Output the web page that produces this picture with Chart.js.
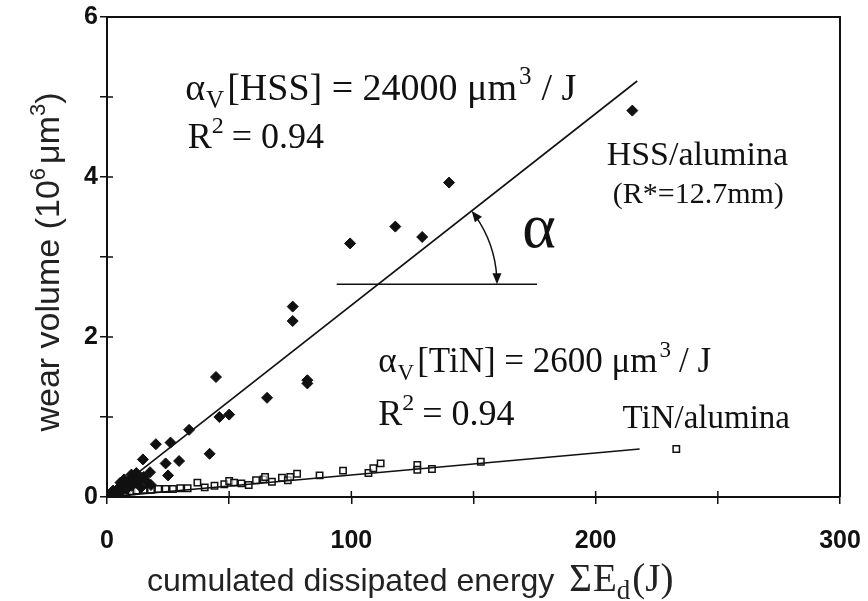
<!DOCTYPE html>
<html>
<head>
<meta charset="utf-8">
<script src="https://cdn.jsdelivr.net/npm/chart.js@4.4.0/dist/chart.umd.min.js"></script>
<style>
  html, body { margin: 0; background: #fff; }
  #wrap { width: 868px; height: 601px; }
</style>
</head>
<body>
<div id="wrap"><canvas id="wearChart"></canvas></div>
<script>
'use strict';

// HSS/alumina (filled diamonds)
let hssX = [1, 2.5, 3, 4, 5, 5.5, 6, 7, 7, 8, 9, 10, 10, 11, 12, 12, 13, 14, 14.7, 15, 16, 17.6, 18, 20, 24, 25, 26, 29.5, 33.6, 42, 44.6, 46, 50, 65.5, 76, 76, 82, 82, 99.5, 118, 129, 140, 215];
let hssY = [0.02, 0.08, 0.04, 0.05, 0.12, 0.18, 0.08, 0.15, 0.22, 0.1, 0.2, 0.14, 0.28, 0.25, 0.18, 0.3, 0.22, 0.12, 0.47, 0.25, 0.2, 0.31, 0.15, 0.66, 0.42, 0.27, 0.68, 0.45, 0.84, 0.54, 1.5, 1.0, 1.03, 1.24, 2.38, 2.2, 1.46, 1.42, 3.17, 3.38, 3.25, 3.93, 4.83];

// TiN/alumina (open squares)
let tinX = [2, 4, 6, 8, 10, 12, 15, 18, 21, 24, 27, 30, 33, 37, 40, 44, 48, 50, 52, 55, 58, 61, 64, 64.7, 67.5, 71.6, 74, 75, 77.8, 87, 96.6, 107, 109, 112, 127, 127, 133, 153, 233];
let tinY = [0.02, 0.04, 0.05, 0.06, 0.07, 0.08, 0.09, 0.09, 0.1, 0.1, 0.1, 0.11, 0.11, 0.18, 0.12, 0.14, 0.16, 0.2, 0.18, 0.17, 0.15, 0.21, 0.22, 0.25, 0.19, 0.24, 0.21, 0.25, 0.29, 0.27, 0.33, 0.3, 0.36, 0.42, 0.4, 0.34, 0.35, 0.44, 0.6];

// fitted lines and the horizontal reference for the angle
let hssFitX = [0, 217];
let hssFitY = [0, 5.2];
let tinFitX = [0, 218];
let tinFitY = [0, 0.6];
let refX = [94, 176];
let refY = [2.66, 2.66];

let xLabels = [0, 100, 200, 300];
let yLabels = [0, 2, 4, 6];

function toPoints(xs, ys) {
  let pts = [];
  for (let i = 0; i < xs.length; i++) {
    pts.push({ x: xs[i], y: ys[i] });
  }
  return pts;
}

const serif = '"Liberation Serif", "DejaVu Serif", serif';
const sans = '"Liberation Sans", Arial, sans-serif';

// draw a run of text pieces, each with its own size and baseline shift
function drawRun(ctx, x, y, parts) {
  let cx = x;
  for (let p of parts) {
    ctx.font = p.size + 'px ' + (p.font || serif);
    ctx.fillText(p.t, cx, y + (p.dy || 0));
    cx += ctx.measureText(p.t).width + (p.gap || 0);
  }
  return cx - x;
}

function runWidth(ctx, parts) {
  let w = 0;
  for (let p of parts) {
    ctx.font = p.size + 'px ' + (p.font || serif);
    w += ctx.measureText(p.t).width + (p.gap || 0);
  }
  return w;
}

const labels = [
  { x: 32, y: 4.96, parts: [
    { t: 'α', size: 38, gap: 1 }, { t: 'V', size: 25, dy: 8, gap: 3 }, { t: '[HSS] = 24000 μm', size: 38, gap: 2 },
    { t: '3', size: 25, dy: -16, gap: 10 }, { t: '/ J', size: 38 }] },
  { x: 33, y: 4.36, parts: [{ t: 'R', size: 36 }, { t: '2', size: 24, dy: -15, gap: 8 }, { t: '= 0.94', size: 36 }] },
  { x: 204.5, y: 4.15, parts: [{ t: 'HSS/alumina', size: 34 }] },
  { x: 207, y: 3.675, parts: [{ t: '(R*=12.7mm)', size: 30 }] },
  { x: 170, y: 3.125, parts: [{ t: 'α', size: 64 }] },
  { x: 111, y: 1.5625, parts: [
    { t: 'α', size: 35, gap: 1 }, { t: 'V', size: 23, dy: 8, gap: 3 }, { t: '[TiN] = 2600 μm', size: 35, gap: 2 },
    { t: '3', size: 23, dy: -15, gap: 8 }, { t: '/ J', size: 35 }] },
  { x: 111, y: 0.9, parts: [{ t: 'R', size: 36 }, { t: '2', size: 24, dy: -15, gap: 8 }, { t: '= 0.94', size: 36 }] },
  { x: 211, y: 0.86, parts: [{ t: 'TiN/alumina', size: 33 }] }
];

function arrowHead(ctx, tx, ty, dx, dy) {
  let len = 11, half = 4.5;
  let bx = tx - dx * len, by = ty - dy * len;
  ctx.beginPath();
  ctx.moveTo(tx, ty);
  ctx.lineTo(bx - dy * half, by + dx * half);
  ctx.lineTo(bx + dy * half, by - dx * half);
  ctx.closePath();
  ctx.fill();
}

const decorPlugin = {
  id: 'decor',
  afterDraw(chart) {
    const ctx = chart.ctx;
    const xs = chart.scales.x;
    const ys = chart.scales.y;
    const area = chart.chartArea;
    ctx.save();
    ctx.fillStyle = '#111';
    ctx.strokeStyle = '#111';

    // frame top and right
    ctx.lineWidth = 2;
    ctx.beginPath();
    ctx.moveTo(area.left, area.top);
    ctx.lineTo(area.right, area.top);
    ctx.lineTo(area.right, area.bottom);
    ctx.stroke();

    // inner half of the crossing ticks
    ctx.lineWidth = 1.5;
    ctx.beginPath();
    for (let t of xs.ticks) {
      let px = xs.getPixelForValue(t.value);
      ctx.moveTo(px, area.bottom);
      ctx.lineTo(px, area.bottom - 6);
    }
    for (let t of ys.ticks) {
      let py = ys.getPixelForValue(t.value);
      ctx.moveTo(area.left, py);
      ctx.lineTo(area.left + 6, py);
    }
    ctx.stroke();

    // angle arc with arrows
    let slope = hssFitY[1] / hssFitX[1];
    let cxv = refY[0] / slope;
    let cx = xs.getPixelForValue(cxv);
    let cy = ys.getPixelForValue(refY[0]);
    let r = xs.getPixelForValue(cxv + 48.6) - cx;
    let a1 = Math.atan2(ys.getPixelForValue(hssFitY[1]) - ys.getPixelForValue(0),
      xs.getPixelForValue(hssFitX[1]) - xs.getPixelForValue(0));
    let pad = 0.06;
    ctx.lineWidth = 1.5;
    ctx.beginPath();
    ctx.arc(cx, cy, r, a1 + pad, -pad, false);
    ctx.stroke();
    arrowHead(ctx, cx + r * Math.cos(a1), cy + r * Math.sin(a1), Math.sin(a1), -Math.cos(a1));
    arrowHead(ctx, cx + r, cy, 0, 1);

    // annotation texts
    ctx.textAlign = 'left';
    ctx.textBaseline = 'alphabetic';
    for (let l of labels) {
      drawRun(ctx, xs.getPixelForValue(l.x), ys.getPixelForValue(l.y), l.parts);
    }

    // x axis title
    ctx.fillStyle = '#222';
    drawRun(ctx, area.left + 40, 591, [
      { t: 'cumulated dissipated energy ', size: 32, font: sans, gap: 6 },
      { t: 'Σ', size: 39, gap: 1 }, { t: 'E', size: 39 }, { t: 'd', size: 27, dy: 8, gap: 2 }, { t: '(J)', size: 39 }]);

    // y axis title
    let yParts = [
      { t: 'wear volume (10', size: 34, font: sans },
      { t: '6', size: 22, font: sans, dy: -14, gap: 4 },
      { t: 'μm', size: 34, font: sans },
      { t: '3', size: 22, font: sans, dy: -14 },
      { t: ')', size: 34, font: sans }];
    let w = runWidth(ctx, yParts);
    ctx.translate(area.left - 48, 262);
    ctx.rotate(-Math.PI / 2);
    drawRun(ctx, -w / 2, 0, yParts);
    ctx.restore();
  }
};

let ctx = document.getElementById('wearChart').getContext('2d');
let wearChart = new Chart(ctx, {
  type: 'scatter',
  data: {
    datasets: [{
      label: 'HSS fit',
      data: toPoints(hssFitX, hssFitY),
      showLine: true,
      borderColor: '#111',
      borderWidth: 1.6,
      pointRadius: 0
    }, {
      label: 'TiN fit',
      data: toPoints(tinFitX, tinFitY),
      showLine: true,
      borderColor: '#111',
      borderWidth: 1.6,
      pointRadius: 0
    }, {
      label: 'reference',
      data: toPoints(refX, refY),
      showLine: true,
      borderColor: '#111',
      borderWidth: 1.6,
      pointRadius: 0
    }, {
      label: 'HSS/alumina',
      data: toPoints(hssX, hssY),
      pointStyle: 'rectRot',
      pointRadius: 5.5,
      backgroundColor: '#111',
      borderColor: '#111',
      borderWidth: 1
    }, {
      label: 'TiN/alumina',
      data: toPoints(tinX, tinY),
      pointStyle: 'rect',
      pointRadius: 4.5,
      backgroundColor: 'rgba(255,255,255,0.6)',
      borderColor: '#111',
      borderWidth: 1.5
    }]
  },
  options: {
    responsive: true,
    maintainAspectRatio: false,
    animation: false,
    layout: { padding: { left: 0, top: 17, right: 28, bottom: 0 } },
    plugins: {
      legend: { display: false },
      tooltip: { enabled: false }
    },
    scales: {
      x: {
        min: 0,
        max: 300,
        afterFit(scale) {
          scale.height = 104;
          scale.paddingLeft = 0;
          scale.paddingRight = 0;
        },
        ticks: {
          stepSize: 50,
          autoSkip: false,
          maxRotation: 0,
          padding: 22,
          color: '#111',
          font: { family: sans, size: 25, weight: 'bold' },
          callback: (v) => (xLabels.includes(v) ? String(v) : '')
        },
        grid: { drawOnChartArea: false, tickLength: 7, color: '#111', lineWidth: 1.5 },
        border: { display: true, color: '#111', width: 2 }
      },
      y: {
        min: 0,
        max: 6,
        afterFit(scale) {
          scale.width = 107;
          scale.paddingTop = 0;
          scale.paddingBottom = 0;
        },
        ticks: {
          stepSize: 1,
          autoSkip: false,
          padding: 2,
          color: '#111',
          font: { family: sans, size: 25, weight: 'bold' },
          callback: (v) => (yLabels.includes(v) ? String(v) : '')
        },
        grid: { drawOnChartArea: false, tickLength: 7, color: '#111', lineWidth: 1.5 },
        border: { display: true, color: '#111', width: 2 }
      }
    }
  },
  plugins: [decorPlugin]
});
</script>
</body>
</html>
